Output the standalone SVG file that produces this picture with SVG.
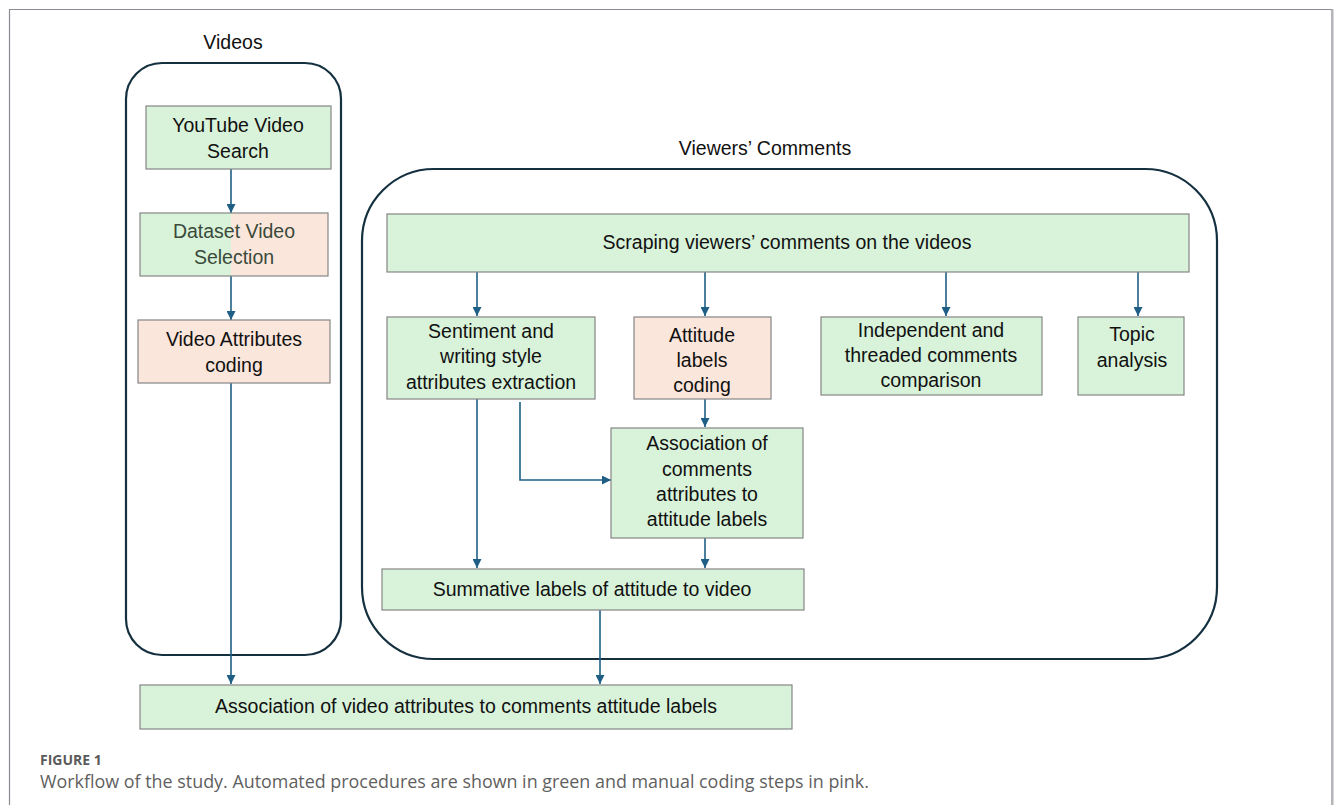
<svg xmlns="http://www.w3.org/2000/svg" width="1335" height="805" viewBox="0 0 1335 805">
<style>
.frame{fill:none;stroke:#8a8a92;}
.cont{fill:none;stroke:#15303f;stroke-width:2.2;}
.box{stroke:#858585;stroke-width:1.2;}
.g{fill:#d9f3da;}
.p{fill:#fbe6dc;}
.t{font-family:"Liberation Sans",Arial,sans-serif;font-size:19.5px;fill:#111;text-anchor:middle;}
.td{fill:#3a4a3a;}
.title{font-family:"Liberation Sans",Arial,sans-serif;font-size:19.5px;fill:#111;text-anchor:middle;}
.con{fill:none;stroke:#1f5f86;stroke-width:1.6;}
.cap1{font-family:"Open Sans",sans-serif;font-size:14px;font-weight:bold;fill:#5a5a5a;}
.cap2{font-family:"Open Sans",sans-serif;font-size:17.9px;fill:#5f5f5f;}
</style>
<defs>
<marker id="ah" viewBox="0 0 10 10" refX="10" refY="5" markerWidth="9" markerHeight="9" markerUnits="userSpaceOnUse" orient="auto">
<path d="M0,0 L10,5 L0,10 Z" fill="#1f5f86"/>
</marker>
</defs>
<rect width="1335" height="805" fill="#fff"/>
<path class="frame" d="M9.5,805 V9.5 H1332 V805" stroke-width="1.2"/>
<line x1="1332.5" y1="9" x2="1332.5" y2="805" stroke="#b3b3b8" stroke-width="2"/>

<g id="containers">
<text class="title" x="233" y="49">Videos</text>
<rect class="cont" x="126" y="63" width="215" height="592" rx="36"/>
<text class="title" x="765" y="155">Viewers’ Comments</text>
<rect class="cont" x="362" y="169" width="855" height="490" rx="72"/>
</g>

<g id="connectors">
<line class="con" x1="231" y1="169" x2="231" y2="213" marker-end="url(#ah)"/>
<line class="con" x1="231" y1="276" x2="231" y2="320" marker-end="url(#ah)"/>
<line class="con" x1="231" y1="383" x2="231" y2="684" marker-end="url(#ah)"/>
<line class="con" x1="477" y1="268" x2="477" y2="316" marker-end="url(#ah)"/>
<line class="con" x1="705" y1="268" x2="705" y2="316" marker-end="url(#ah)"/>
<line class="con" x1="946" y1="268" x2="946" y2="316" marker-end="url(#ah)"/>
<line class="con" x1="1138" y1="268" x2="1138" y2="316" marker-end="url(#ah)"/>
<line class="con" x1="705" y1="399" x2="705" y2="427" marker-end="url(#ah)"/>
<polyline class="con" points="520,402 520,480 611,480" marker-end="url(#ah)"/>
<line class="con" x1="477" y1="399" x2="477" y2="568" marker-end="url(#ah)"/>
<line class="con" x1="705" y1="538" x2="705" y2="568" marker-end="url(#ah)"/>
<line class="con" x1="600" y1="610" x2="600" y2="684" marker-end="url(#ah)"/>
</g>

<g id="youtube-search">
<rect class="box g" x="146" y="106" width="185" height="63"/>
<text class="t" x="238" y="132">YouTube Video</text>
<text class="t" x="238" y="158">Search</text>
</g>

<g id="dataset-selection">
<rect class="g" x="140" y="213" width="91" height="63"/>
<rect class="p" x="231" y="213" width="97" height="63"/>
<rect class="box" x="140" y="213" width="188" height="63" fill="none"/>
<text class="t td" x="234" y="238">Dataset Video</text>
<text class="t td" x="234" y="264">Selection</text>
</g>

<g id="video-attributes">
<rect class="box p" x="138" y="320" width="192" height="63"/>
<text class="t" x="234" y="346">Video Attributes</text>
<text class="t" x="234" y="372">coding</text>
</g>

<g id="scraping">
<rect class="box g" x="387" y="214" width="802" height="58"/>
<text class="t" x="787" y="249">Scraping viewers’ comments on the videos</text>
</g>

<g id="sentiment">
<rect class="box g" x="387" y="317" width="208" height="82"/>
<text class="t" x="491" y="338">Sentiment and</text>
<text class="t" x="491" y="363">writing style</text>
<text class="t" x="491" y="389">attributes extraction</text>
</g>

<g id="attitude-coding">
<rect class="box p" x="634" y="317" width="137" height="82"/>
<text class="t" x="702" y="342">Attitude</text>
<text class="t" x="702" y="367">labels</text>
<text class="t" x="702" y="392">coding</text>
</g>

<g id="independent">
<rect class="box g" x="821" y="317" width="221" height="78"/>
<text class="t" x="931" y="337">Independent and</text>
<text class="t" x="931" y="362">threaded comments</text>
<text class="t" x="931" y="387">comparison</text>
</g>

<g id="topic">
<rect class="box g" x="1078" y="317" width="106" height="78"/>
<text class="t" x="1132" y="341">Topic</text>
<text class="t" x="1132" y="367">analysis</text>
</g>

<g id="association-comments">
<rect class="box g" x="611" y="428" width="192" height="110"/>
<text class="t" x="707" y="450">Association of</text>
<text class="t" x="707" y="476">comments</text>
<text class="t" x="707" y="501">attributes to</text>
<text class="t" x="707" y="526">attitude labels</text>
</g>

<g id="summative">
<rect class="box g" x="382" y="569" width="422" height="41"/>
<text class="t" x="592" y="596">Summative labels of attitude to video</text>
</g>

<g id="association-video">
<rect class="box g" x="140" y="685" width="652" height="44"/>
<text class="t" x="466" y="713">Association of video attributes to comments attitude labels</text>
</g>

<g id="caption">
<text class="cap1" x="40" y="765">FIGURE 1</text>
<text class="cap2" x="40" y="788">Workflow of the study. Automated procedures are shown in green and manual coding steps in pink.</text>
</g>
</svg>
